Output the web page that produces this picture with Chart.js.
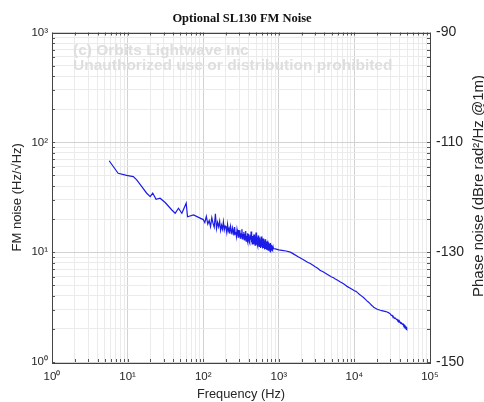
<!DOCTYPE html>
<html>
<head>
<meta charset="utf-8">
<script src="https://cdn.jsdelivr.net/npm/chart.js@4/dist/chart.umd.min.js"></script>
<style>
    html, body { margin: 0; padding: 0; background: #fff; }
    #wrap { width: 484px; height: 402px; }
</style>
</head>
<body>
<div id="wrap"><canvas id="fmNoiseChart"></canvas></div>
<script>
// frequency (Hz) and FM noise (Hz/rtHz)
const lowFreqs = [5.7, 7.5, 9.7, 11.9, 13.2, 15.4, 17.9, 19.9, 21.5, 23.8, 26.9, 31.4, 38.5, 42.6, 47.1, 52.2, 59.6, 62, 74.5, 91];
const lowNoise = [68, 52.3, 50.1, 48.7, 45.5, 39.5, 34.4, 32.0, 34.4, 30.3, 31.0, 28.3, 24.2, 22.6, 25.1, 22.6, 27.9, 21.0, 21.8, 20.4];

// noisy band, 100..850 Hz in 5 Hz bins
const bandFreqs = [
    100, 105, 110, 115, 120, 125, 130, 135, 140, 145,
    150, 155, 160, 165, 170, 175, 180, 185, 190, 195,
    200, 205, 210, 215, 220, 225, 230, 235, 240, 245,
    250, 255, 260, 265, 270, 275, 280, 285, 290, 295,
    300, 305, 310, 315, 320, 325, 330, 335, 340, 345,
    350, 355, 360, 365, 370, 375, 380, 385, 390, 395,
    400, 405, 410, 415, 420, 425, 430, 435, 440, 445,
    450, 455, 460, 465, 470, 475, 480, 485, 490, 495,
    500, 505, 510, 515, 520, 525, 530, 535, 540, 545,
    550, 555, 560, 565, 570, 575, 580, 585, 590, 595,
    600, 605, 610, 615, 620, 625, 630, 635, 640, 645,
    650, 655, 660, 665, 670, 675, 680, 685, 690, 695,
    700, 705, 710, 715, 720, 725, 730, 735, 740, 745,
    750, 755, 760, 765, 770, 775, 780, 785, 790, 795,
    800, 805, 810, 815, 820, 825, 830, 835, 840, 845, 850
];
const bandNoise = [
    19.8, 18.6, 21.2, 18.0, 19.4, 17.1, 20.6, 18.3, 16.9, 22.4,
    16.4, 18.7, 17.0, 19.1, 15.8, 17.6, 16.2, 18.9, 15.9, 17.3,
    16.8, 15.1, 17.9, 15.6, 16.4, 14.7, 17.2, 15.9, 14.5, 16.6,
    15.6, 14.2, 16.9, 14.6, 15.3, 13.9, 16.1, 14.8, 13.7, 15.9,
    14.0, 15.8, 13.4, 14.9, 13.9, 16.2, 13.2, 14.6, 13.6, 15.3,
    12.9, 14.7, 13.5, 15.6, 12.6, 14.1, 13.1, 14.9, 12.4, 13.9,
    14.6, 12.5, 13.8, 12.1, 14.3, 13.0, 15.4, 12.3, 13.6, 11.9,
    14.0, 12.6, 13.4, 11.8, 14.5, 12.2, 13.1, 11.6, 13.8, 12.4,
    15.1, 11.7, 13.2, 12.0, 13.7, 11.4, 12.8, 14.2, 11.5, 12.9,
    11.3, 13.6, 12.1, 13.0, 10.9, 12.6, 11.6, 13.9, 11.2, 12.4,
    12.9, 10.8, 12.3, 11.5, 13.3, 10.9, 12.0, 11.3, 12.7, 10.6,
    12.4, 11.0, 13.1, 10.7, 11.9, 11.2, 12.5, 10.5, 12.2, 11.1,
    11.8, 10.4, 12.6, 11.0, 11.7, 10.3, 12.3, 10.9, 11.6, 10.6,
    12.0, 10.5, 11.4, 10.2, 12.1, 10.8, 11.3, 10.1, 11.7, 10.7,
    11.5, 10.3, 11.2, 10.6, 11.4, 10.5, 11.0, 10.4, 11.1, 10.7, 10.8
];

const highFreqs = [
    900, 1000, 1100, 1250, 1420, 1600, 1800, 1930, 2200, 2400, 2610, 3000, 3300, 3500, 3900, 4350, 4700,
    5000, 5300, 5600, 6000, 6530, 7000, 7500, 8000, 8700, 9300, 10000, 10500, 10900, 11700, 12500, 13200,
    14000, 15000, 16000, 17000, 17500, 18000, 19000, 20000, 21000, 22000, 23000, 24500, 26000, 27100,
    28500, 30000, 30700, 31500, 32200, 33000, 34000, 35000, 36000, 36800, 37600, 38500, 39200, 40000,
    41000, 42000, 43000, 44000, 44800, 45500, 46300, 47000, 47800, 48500, 49200, 49900
];
const highNoise = [
    10.7, 10.5, 10.4, 10.25, 10.0, 9.55, 9.1, 8.85, 8.4, 8.1, 7.9, 7.4, 7.1, 6.85, 6.6, 6.3, 6.1,
    5.95, 5.85, 5.7, 5.55, 5.35, 5.2, 5.05, 4.88, 4.72, 4.6, 4.45, 4.4, 4.3, 4.12, 3.98, 3.86,
    3.72, 3.55, 3.42, 3.27, 3.22, 3.15, 3.08, 3.02, 2.99, 2.96, 2.94, 2.91, 2.88, 2.85,
    2.8, 2.73, 2.66, 2.66, 2.58, 2.58, 2.5, 2.51, 2.43, 2.44, 2.37, 2.39, 2.31, 2.32,
    2.25, 2.27, 2.2, 2.22, 2.15, 2.17, 2.1, 2.12, 2.06, 2.07, 2.02, 2.04
];

// log grid positions
const xTicks = [
    1, 2, 3, 4, 5, 6, 7, 8, 9,
    10, 20, 30, 40, 50, 60, 70, 80, 90,
    100, 200, 300, 400, 500, 600, 700, 800, 900,
    1000, 2000, 3000, 4000, 5000, 6000, 7000, 8000, 9000,
    10000, 20000, 30000, 40000, 50000, 60000, 70000, 80000, 90000,
    100000
];
const yTicks = [
    1, 2, 3, 4, 5, 6, 7, 8, 9,
    10, 20, 30, 40, 50, 60, 70, 80, 90,
    100, 200, 300, 400, 500, 600, 700, 800, 900,
    1000
];
const phaseTicks = [-150, -130, -110, -90];

const SUP = {'0': '⁰', '1': '¹', '2': '²', '3': '³', '4': '⁴', '5': '⁵'};
const SANS = "'Liberation Sans', Arial, sans-serif";

function isDecade(v) {
    const e = Math.log10(v);
    return Math.abs(e - Math.round(e)) < 1e-9;
}

function decadeLabel(v) {
    if (!isDecade(v)) return '';
    return '10' + SUP[String(Math.round(Math.log10(v)))];
}

// watermark, box, inward tick marks, right axis title
const decorations = {
    id: 'decorations',
    beforeDatasetsDraw(chart) {
        const ctx = chart.ctx;
        ctx.save();
        ctx.fillStyle = '#dedede';
        ctx.font = "bold 15.5px " + SANS;
        ctx.textBaseline = 'alphabetic';
        ctx.fillText('(c) Orbits Lightwave Inc', 73, 55);
        ctx.fillText('Unauthorized use or distribution prohibited', 73, 70);
        ctx.restore();
    },
    afterDatasetsDraw(chart) {
        const {ctx, chartArea: a, scales} = chart;
        ctx.save();
        ctx.strokeStyle = '#555';
        ctx.lineWidth = 1;
        ctx.beginPath();
        xTicks.forEach(v => {
            const px = Math.round(scales.x.getPixelForValue(v)) + 0.5;
            ctx.moveTo(px, a.bottom); ctx.lineTo(px, a.bottom - 3);
            ctx.moveTo(px, a.top); ctx.lineTo(px, a.top + 3);
        });
        yTicks.forEach(v => {
            const py = Math.round(scales.y.getPixelForValue(v)) + 0.5;
            ctx.moveTo(a.left, py); ctx.lineTo(a.left + 3, py);
            ctx.moveTo(a.right, py); ctx.lineTo(a.right - 3, py);
        });
        ctx.stroke();
        ctx.strokeStyle = '#444';
        ctx.strokeRect(Math.round(a.left) + 0.5, Math.round(a.top) + 0.5,
            Math.round(a.right - a.left), Math.round(a.bottom - a.top));

        ctx.translate(483, 186);
        ctx.rotate(-Math.PI / 2);
        ctx.fillStyle = '#262626';
        ctx.font = "15px " + SANS;
        ctx.textAlign = 'center';
        ctx.textBaseline = 'alphabetic';
        ctx.fillText('Phase noise (dBre rad²/Hz @1m)', 0, 0);
        ctx.restore();
    }
};

window.addEventListener('DOMContentLoaded', function () {
    const ctx = document.getElementById('fmNoiseChart');

    const freqs = lowFreqs.concat(bandFreqs, highFreqs);
    const fmNoise = lowNoise.concat(bandNoise, highNoise);

    new Chart(ctx, {
        type: 'line',
        data: {
            datasets: [
                {
                    label: 'FM noise',
                    data: freqs.map((f, i) => ({x: f, y: fmNoise[i]})),
                    borderColor: '#1c1ce8',
                    borderWidth: 1.2,
                    pointRadius: 0,
                    tension: 0,
                    yAxisID: 'y',
                }
            ]
        },
        options: {
            responsive: true,
            maintainAspectRatio: false,
            animation: false,
            layout: {padding: 0},
            scales: {
                x: {
                    type: 'logarithmic',
                    min: 1,
                    max: 100000,
                    afterBuildTicks: scale => { scale.ticks = xTicks.map(v => ({value: v, major: isDecade(v)})); },
                    afterFit: scale => { scale.height = 40; },
                    grid: {
                        drawTicks: false,
                        color: c => c.tick && isDecade(c.tick.value) ? '#d2d2d2' : '#ebebeb',
                    },
                    border: {display: false},
                    ticks: {
                        autoSkip: false,
                        maxRotation: 0,
                        padding: 8,
                        color: '#262626',
                        font: {family: SANS, size: 11.5},
                        callback: v => decadeLabel(v),
                    },
                    title: {
                        display: true,
                        text: 'Frequency (Hz)',
                        color: '#262626',
                        font: {family: SANS, size: 12.8},
                        padding: {top: 0, bottom: 0},
                    }
                },
                y: {
                    type: 'logarithmic',
                    position: 'left',
                    min: 1,
                    max: 1000,
                    afterBuildTicks: scale => { scale.ticks = yTicks.map(v => ({value: v, major: isDecade(v)})); },
                    afterFit: scale => { scale.width = 52; },
                    grid: {
                        drawTicks: false,
                        color: c => c.tick && isDecade(c.tick.value) ? '#d2d2d2' : '#ebebeb',
                    },
                    border: {display: false},
                    ticks: {
                        autoSkip: false,
                        padding: 4,
                        color: '#262626',
                        font: {family: SANS, size: 11.5},
                        callback: v => decadeLabel(v),
                    },
                    title: {
                        display: true,
                        text: 'FM noise (Hz/√Hz)',
                        color: '#262626',
                        font: {family: SANS, size: 13},
                        padding: {top: 10, bottom: 0},
                    }
                },
                y2: {
                    type: 'linear',
                    position: 'right',
                    min: -150,
                    max: -90,
                    afterBuildTicks: scale => { scale.ticks = phaseTicks.map(v => ({value: v})); },
                    afterFit: scale => { scale.width = 54; },
                    grid: {display: false, drawTicks: false},
                    border: {display: false},
                    ticks: {
                        padding: 6,
                        color: '#262626',
                        font: {family: SANS, size: 14},
                    }
                }
            },
            plugins: {
                legend: {display: false},
                tooltip: {enabled: false},
                title: {
                    display: true,
                    text: 'Optional SL130 FM Noise',
                    color: '#111',
                    font: {family: "'Liberation Serif', 'Times New Roman', serif", size: 12.5, weight: 'bold'},
                    padding: {top: 11, bottom: 6.5},
                }
            }
        },
        plugins: [decorations]
    })
})
</script>
</body>
</html>
